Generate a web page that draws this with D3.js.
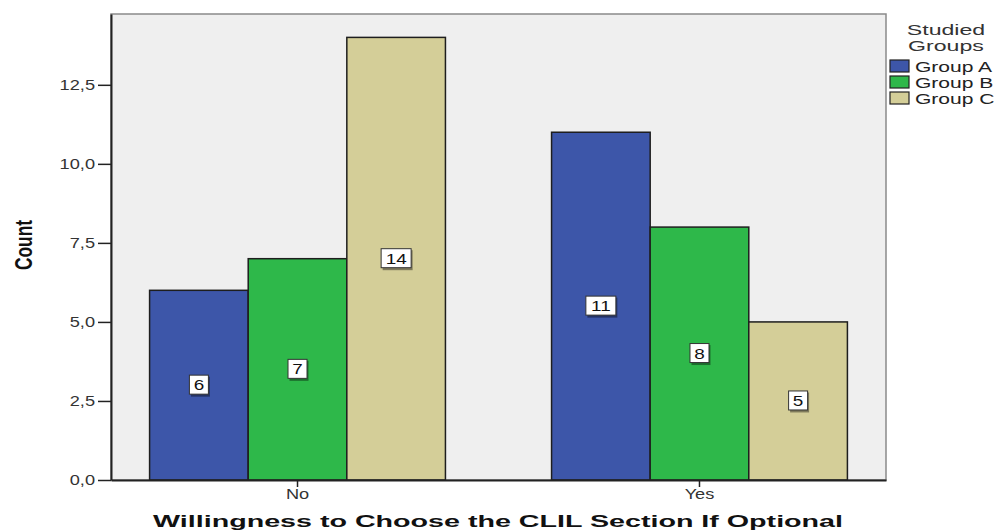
<!DOCTYPE html>
<html>
<head>
<meta charset="utf-8">
<script src="https://cdn.jsdelivr.net/npm/d3@7"></script>
<style>
  html, body { margin: 0; padding: 0; background: #fff; }
  svg { display: block; }
</style>
</head>
<body>
<svg id="chart" width="994" height="531"></svg>
<script>
// Answers grouped by willingness, one series per studied group
const categories = ["No", "Yes"];
const groups = ["Group A", "Group B", "Group C"];
const groupA = [6, 11];
const groupB = [7, 8];
const groupC = [14, 5];
const yTicks = [0, 2.5, 5, 7.5, 10, 12.5];
const colors = ["#3D56A9", "#2EB84A", "#D4CE98"];

const seriesValues = [groupA, groupB, groupC];
const rows = categories.map((c, i) => ({
  category: c,
  values: groups.map((g, k) => ({ group: g, k, value: seriesValues[k][i] }))
}));

const svg = d3.select("#chart");
const plot = { left: 111, right: 886, top: 14, bottom: 480 };
const font = "'Liberation Sans', Arial, sans-serif";

// widen glyphs horizontally, keeping each text's anchor
function stretch(sel, factor) {
  sel.each(function() {
    const w = this.getComputedTextLength();
    d3.select(this)
      .attr("textLength", w * factor)
      .attr("lengthAdjust", "spacingAndGlyphs");
  });
}

const x0 = d3.scaleBand()
  .domain(categories)
  .range([plot.left, plot.right])
  .paddingInner(0.264)
  .paddingOuter(0.096);
const x1 = d3.scaleBand()
  .domain(groups)
  .range([0, x0.bandwidth()]);
const y = d3.scaleLinear()
  .domain([0, 14.74])
  .range([plot.bottom, plot.top]);

// plot background and frame
svg.append("rect")
  .attr("x", plot.left).attr("y", plot.top)
  .attr("width", plot.right - plot.left).attr("height", plot.bottom - plot.top)
  .attr("fill", "#EFEFEF")
  .attr("stroke", "#8a8a8a").attr("stroke-width", 1.5);

// bars
const gCat = svg.append("g").selectAll("g")
  .data(rows).join("g")
  .attr("transform", d => `translate(${x0(d.category)},0)`);

gCat.selectAll("rect")
  .data(d => d.values).join("rect")
  .attr("x", d => x1(d.group))
  .attr("y", d => y(d.value))
  .attr("width", x1.bandwidth())
  .attr("height", d => y(0) - y(d.value))
  .attr("fill", d => colors[d.k])
  .attr("stroke", "#1e1e1e").attr("stroke-width", 1.5);

// value labels in boxes at bar middles
const lab = gCat.selectAll("g.lab")
  .data(d => d.values).join("g")
  .attr("class", "lab")
  .attr("transform", d => `translate(${x1(d.group) + x1.bandwidth() / 2},${(y(d.value) + y(0)) / 2})`);

lab.each(function(d) {
  const g = d3.select(this);
  const w = String(d.value).length > 1 ? 30 : 19;
  g.append("rect")
    .attr("x", -w / 2 + 1.5).attr("y", -10 + 1.5)
    .attr("width", w).attr("height", 20)
    .attr("fill", "rgba(0,0,0,0.4)");
  g.append("rect")
    .attr("x", -w / 2).attr("y", -10)
    .attr("width", w).attr("height", 19)
    .attr("fill", "#fff")
    .attr("stroke", "#333").attr("stroke-width", 1);
  const t = g.append("text")
    .attr("text-anchor", "middle")
    .attr("y", 5)
    .attr("font-family", font)
    .attr("font-size", 14)
    .attr("fill", "#111")
    .text(d.value);
  stretch(t, 1.35);
});

// y axis
const yAxis = d3.axisLeft(y)
  .tickValues(yTicks)
  .tickSize(13)
  .tickSizeOuter(0)
  .tickPadding(3)
  .tickFormat(d => d3.format(".1f")(d).replace(".", ","));
const gy = svg.append("g")
  .attr("transform", `translate(${plot.left},0)`)
  .call(yAxis);
gy.select(".domain").attr("stroke", "#222").attr("stroke-width", 2);
gy.selectAll(".tick line").attr("stroke", "#222").attr("stroke-width", 1.5);
gy.selectAll(".tick text")
  .attr("font-family", font).attr("font-size", 14)
  .attr("fill", "#333")
  .call(stretch, 1.3);

// x axis
const xAxis = d3.axisBottom(x0).tickSize(7).tickSizeOuter(0).tickPadding(2);
const gx = svg.append("g")
  .attr("transform", `translate(0,${plot.bottom})`)
  .call(xAxis);
gx.select(".domain").attr("stroke", "#222").attr("stroke-width", 2);
gx.selectAll(".tick line").attr("stroke", "#222").attr("stroke-width", 1.5);
gx.selectAll(".tick text")
  .attr("font-family", font).attr("font-size", 14)
  .attr("fill", "#333")
  .call(stretch, 1.3);

// axis titles
svg.append("text")
  .attr("transform", "translate(32,245) rotate(-90)")
  .attr("text-anchor", "middle")
  .attr("font-family", font).attr("font-size", 24).attr("font-weight", "bold")
  .attr("textLength", 50).attr("lengthAdjust", "spacingAndGlyphs")
  .attr("fill", "#111")
  .text("Count");

svg.append("text")
  .attr("x", 498).attr("y", 527)
  .attr("text-anchor", "middle")
  .attr("font-family", font).attr("font-size", 16).attr("font-weight", "bold")
  .attr("textLength", 690).attr("lengthAdjust", "spacingAndGlyphs")
  .attr("fill", "#111")
  .text("Willingness to Choose the CLIL Section If Optional");

// legend
const leg = svg.append("g");
leg.selectAll("text.title")
  .data(["Studied", "Groups"]).join("text")
  .attr("class", "title")
  .attr("x", 946)
  .attr("y", (d, i) => 34.5 + i * 16.5)
  .attr("text-anchor", "middle")
  .attr("font-family", font).attr("font-size", 14)
  .attr("fill", "#333")
  .text(d => d)
  .call(stretch, 1.65);

const item = leg.selectAll("g.item")
  .data(groups).join("g")
  .attr("class", "item")
  .attr("transform", (d, i) => `translate(890,${60 + i * 16})`);
item.append("rect")
  .attr("width", 19).attr("height", 12)
  .attr("fill", (d, i) => colors[i])
  .attr("stroke", "#222").attr("stroke-width", 1.2);
item.append("text")
  .attr("x", 25).attr("y", 11.5)
  .attr("font-family", font).attr("font-size", 14.5)
  .attr("fill", "#222")
  .text(d => d)
  .call(stretch, 1.45);
</script>
</body>
</html>
